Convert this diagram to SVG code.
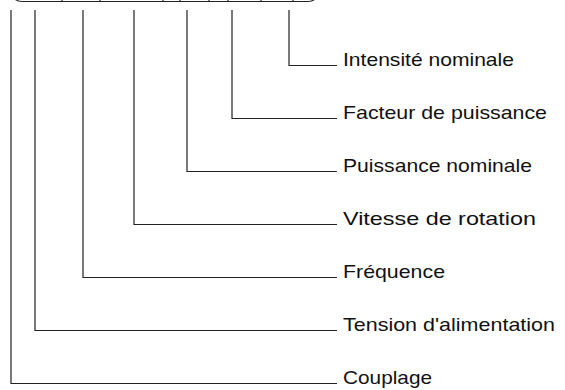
<svg xmlns="http://www.w3.org/2000/svg" width="565" height="390" viewBox="0 0 565 390">
<style>
.ln{fill:none;stroke:#222;stroke-width:1.2}
.lb{font-family:"Liberation Sans",Arial,sans-serif;font-size:19px;fill:#111}
</style>
<rect width="565" height="390" fill="#fff"/>
<g id="plate">
<rect class="ln" x="10" y="-40" width="310" height="41.5" rx="12"/>
<path class="ln" d="M62,-5V1.5M100,-5V1.5M163,-5V1.5M180,-5V1.5M209,-5V1.5M228,-5V1.5M261,-5V1.5M293,-5V1.5"/>
</g>
<g id="connectors">
<path class="ln" d="M289,10V65.5H337"/>
<path class="ln" d="M232,10V118.5H337"/>
<path class="ln" d="M187,10V171.5H337"/>
<path class="ln" d="M134,10V224.5H337"/>
<path class="ln" d="M83,10V277.5H337"/>
<path class="ln" d="M35,10V330.5H337"/>
<path class="ln" d="M11,10V383.5H337"/>
</g>
<g id="n1"><text class="lb" x="343" y="66" textLength="171" lengthAdjust="spacingAndGlyphs">Intensité nominale</text></g>
<g id="n2"><text class="lb" x="343" y="119" textLength="204" lengthAdjust="spacingAndGlyphs">Facteur de puissance</text></g>
<g id="n3"><text class="lb" x="343" y="172" textLength="189" lengthAdjust="spacingAndGlyphs">Puissance nominale</text></g>
<g id="n4"><text class="lb" x="343" y="225" textLength="193" lengthAdjust="spacingAndGlyphs">Vitesse de rotation</text></g>
<g id="n5"><text class="lb" x="343" y="278" textLength="102" lengthAdjust="spacingAndGlyphs">Fréquence</text></g>
<g id="n6"><text class="lb" x="343" y="331" textLength="212" lengthAdjust="spacingAndGlyphs">Tension d'alimentation</text></g>
<g id="n7"><text class="lb" x="343" y="384" textLength="89" lengthAdjust="spacingAndGlyphs">Couplage</text></g>
</svg>
